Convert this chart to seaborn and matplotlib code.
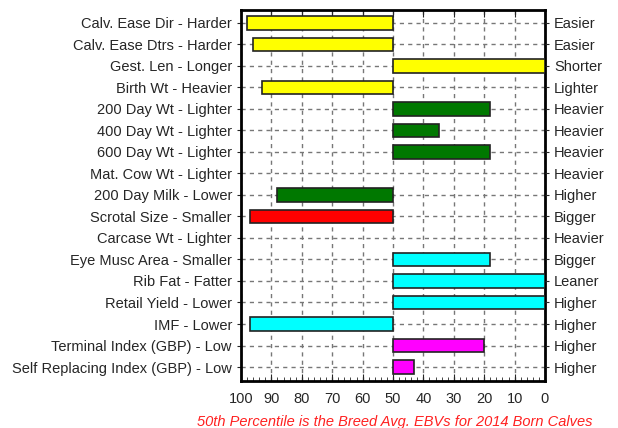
import pandas as pd
import numpy as np
import matplotlib
matplotlib.use('Agg')
import matplotlib.pyplot as plt
import seaborn as sns

traits = ['Calv. Ease Dir - Harder', 'Calv. Ease Dtrs - Harder', 'Gest. Len - Longer',
          'Birth Wt - Heavier', '200 Day Wt - Lighter', '400 Day Wt - Lighter',
          '600 Day Wt - Lighter', 'Mat. Cow Wt - Lighter', '200 Day Milk - Lower',
          'Scrotal Size - Smaller', 'Carcase Wt - Lighter', 'Eye Musc Area - Smaller',
          'Rib Fat - Fatter', 'Retail Yield - Lower', 'IMF - Lower',
          'Terminal Index (GBP) - Low', 'Self Replacing Index (GBP) - Low']
right_labels = ['Easier', 'Easier', 'Shorter', 'Lighter', 'Heavier', 'Heavier', 'Heavier',
                'Heavier', 'Higher', 'Bigger', 'Heavier', 'Bigger', 'Leaner', 'Higher',
                'Higher', 'Higher', 'Higher']
percentile = [98, 96, 0, 93, 18, 35, 18, np.nan, 88, 97, np.nan, 18, 0, 0, 97, 20, 43]
bar_colors = ['#FFFF00', '#FFFF00', '#FFFF00', '#FFFF00', '#007800', '#007800', '#007800',
              '#007800', '#007800', '#FF0000', '#00FFFF', '#00FFFF', '#00FFFF', '#00FFFF',
              '#00FFFF', '#FF00FF', '#FF00FF']
ticks = [100, 90, 80, 70, 60, 50, 40, 30, 20, 10, 0]

df = pd.DataFrame({'trait': traits, 'pct': percentile})
# bars start at the 50th percentile; plot the offset from 50 (positive = towards 0)
df['offset'] = 50 - df['pct']

sns.set_style('white')
plt.rcParams['font.family'] = ['Liberation Sans', 'DejaVu Sans']

fig = plt.figure(figsize=(6.18, 4.28), dpi=100)
ax = fig.add_axes([241 / 618, 1 - 381 / 428, 304 / 618, 371 / 428])

sns.barplot(data=df, x='offset', y='trait', hue='trait', order=traits, hue_order=traits,
            palette=bar_colors, saturation=1, legend=False, orient='h', width=0.64,
            edgecolor='#222222', linewidth=1.2, ax=ax, zorder=3)

ax.set_xlim(-50, 50)
ax.set_ylim(len(traits) - 0.35, -0.6)
ax.set_xticks([50 - t for t in ticks])
ax.set_xticklabels([str(t) for t in ticks], fontsize=10.5)
ax.set_xticks(np.arange(-50, 51, 2), minor=True)
ax.set_xlabel('')
ax.set_ylabel('')
ax.tick_params(axis='y', labelsize=10.5, length=3, direction='out', left=True)
ax.tick_params(axis='x', which='major', direction='in', length=5, top=True, bottom=True, pad=8)
ax.tick_params(axis='x', which='minor', direction='in', length=3, top=False, bottom=True)
ax.grid(True, color='#777777', linestyle=(0, (3, 3)), linewidth=1.0, zorder=0)
ax.set_axisbelow(True)
for s in ax.spines.values():
    s.set_visible(True)
    s.set_color('black')
    s.set_linewidth(2)

ax2 = ax.twinx()
ax2.set_ylim(ax.get_ylim())
ax2.set_yticks(range(len(traits)))
ax2.set_yticklabels(right_labels, fontsize=10.5)
ax2.tick_params(axis='y', length=3, direction='out')
for s in ax2.spines.values():
    s.set_visible(False)

fig.text(395 / 618, 1 - 422 / 428, '50th Percentile is the Breed Avg. EBVs for 2014 Born Calves',
         color='#FF2020', style='italic', fontsize=10.5, ha='center', va='center')

fig.savefig('out.png', dpi=100)
